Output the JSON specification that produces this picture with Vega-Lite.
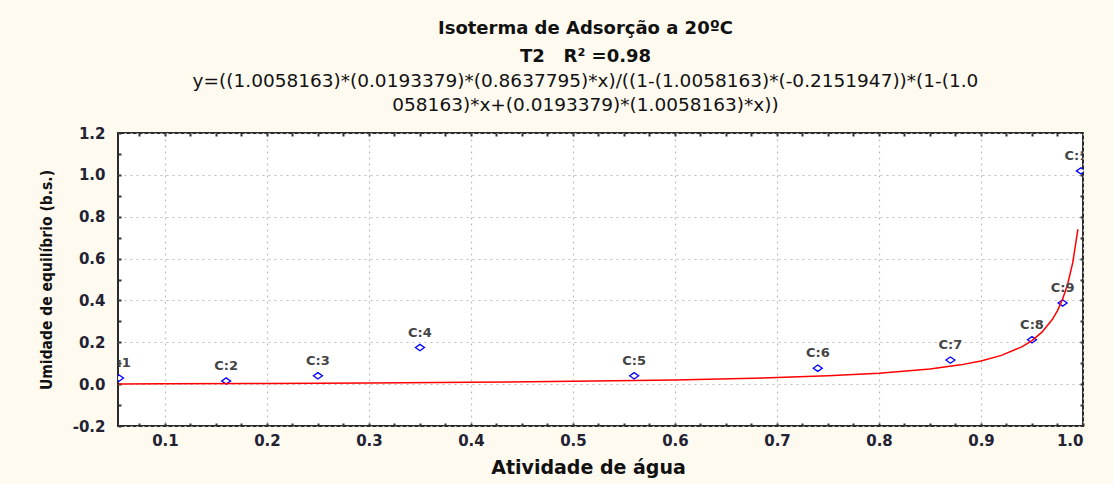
{
  "$schema": "https://vega.github.io/schema/vega-lite/v6.json",
  "width": 965,
  "height": 293,
  "autosize": {"type": "none"},
  "padding": {"left": 118, "top": 133, "right": 30, "bottom": 58},
  "background": "#fffaf0",
  "config": {
    "view": {"stroke": "#2a2a2a", "strokeWidth": 2, "fill": "white"},
    "axis": {"grid": false, "domain": false}
  },
  "title": {
    "text": ["Isoterma de Adsorção a 20ºC", "T2\u00a0\u00a0\u00a0R² =0.98"],
    "subtitle": ["y=((1.0058163)*(0.0193379)*(0.8637795)*x)/((1-(1.0058163)*(-0.2151947))*(1-(1.0", "058163)*x+(0.0193379)*(1.0058163)*x))"],
    "font": "DejaVu Sans",
    "fontSize": 18,
    "fontWeight": "bold",
    "lineHeight": 28,
    "color": "#111111",
    "subtitleFont": "DejaVu Sans",
    "subtitleFontSize": 18.5,
    "subtitleLineHeight": 24,
    "subtitleColor": "#111111",
    "subtitlePadding": 6,
    "anchor": "middle",
    "dx": -15,
    "offset": 12
  },
  "datasets": {
    "points": [
      {"x": 0.055, "y": 0.029, "label": "C:1"},
      {"x": 0.16, "y": 0.015, "label": "C:2"},
      {"x": 0.25, "y": 0.040, "label": "C:3"},
      {"x": 0.35, "y": 0.175, "label": "C:4"},
      {"x": 0.56, "y": 0.040, "label": "C:5"},
      {"x": 0.74, "y": 0.076, "label": "C:6"},
      {"x": 0.87, "y": 0.115, "label": "C:7"},
      {"x": 0.95, "y": 0.212, "label": "C:8"},
      {"x": 0.98, "y": 0.388, "label": "C:9"},
      {"x": 0.998, "y": 1.019, "label": "C:10"}
    ],
    "curve": [
      {"x": 0.055, "y": 0.0008},
      {"x": 0.1, "y": 0.0015},
      {"x": 0.2, "y": 0.0034},
      {"x": 0.3, "y": 0.0059},
      {"x": 0.4, "y": 0.0091},
      {"x": 0.5, "y": 0.0136},
      {"x": 0.6, "y": 0.0203},
      {"x": 0.7, "y": 0.0312},
      {"x": 0.75, "y": 0.0398},
      {"x": 0.8, "y": 0.0524},
      {"x": 0.85, "y": 0.0727},
      {"x": 0.88, "y": 0.0921},
      {"x": 0.9, "y": 0.1107},
      {"x": 0.92, "y": 0.1373},
      {"x": 0.94, "y": 0.1783},
      {"x": 0.95, "y": 0.2084},
      {"x": 0.96, "y": 0.2498},
      {"x": 0.97, "y": 0.3099},
      {"x": 0.975, "y": 0.3517},
      {"x": 0.98, "y": 0.4058},
      {"x": 0.985, "y": 0.4785},
      {"x": 0.99, "y": 0.5819},
      {"x": 0.995, "y": 0.7401}
    ]
  },
  "resolve": {"axis": {"x": "independent", "y": "independent"}},
  "layer": [
    {
      "data": {"name": "points"},
      "mark": {"type": "point", "shape": "M-1,0L0,-0.7L1,0L0,0.7Z", "size": 81, "filled": false, "fill": "white", "fillOpacity": 1, "stroke": "#0000ff", "strokeWidth": 1.3, "opacity": 1, "clip": true},
      "encoding": {
        "x": {
          "field": "x", "type": "quantitative",
          "scale": {"domain": [0.054, 1.0], "nice": false, "zero": false},
          "axis": {
            "orient": "bottom",
            "title": "Atividade de água",
            "titleX": 470,
            "values": [0.075,0.1,0.125,0.15,0.175,0.2,0.225,0.25,0.275,0.3,0.325,0.35,0.375,0.4,0.425,0.45,0.475,0.5,0.525,0.55,0.575,0.6,0.625,0.65,0.675,0.7,0.725,0.75,0.775,0.8,0.825,0.85,0.875,0.9,0.925,0.95,0.975,1.0],
            "labelExpr": "abs(datum.value*10 - round(datum.value*10)) < 0.001 ? format(datum.value, '.1f') : ''",
            "labelOverlap": false,
            "labelFont": "DejaVu Sans", "labelFontSize": 15, "labelFontWeight": "bold", "labelColor": "#222233",
            "labelPadding": 10,
            "tickSize": -3, "tickColor": "#333333", "tickWidth": 2,
            "grid": true,
            "gridColor": "#bdbdbd", "gridDash": [2, 4], "gridWidth": 1.2,
            "gridOpacity": {"condition": {"test": "abs(datum.value*10 - round(datum.value*10)) < 0.001", "value": 1}, "value": 0},
            "titleFont": "DejaVu Sans", "titleFontSize": 19, "titleFontWeight": "bold", "titleColor": "#111111",
            "titlePadding": 10
          }
        },
        "y": {
          "field": "y", "type": "quantitative",
          "scale": {"domain": [-0.2, 1.2], "nice": false, "zero": false},
          "axis": {
            "orient": "left",
            "title": "Umidade de equilíbrio (b.s.)",
            "values": [-0.2,-0.1,0,0.1,0.2,0.3,0.4,0.5,0.6,0.7,0.8,0.9,1.0,1.1,1.2],
            "labelExpr": "abs(datum.value*5 - round(datum.value*5)) < 0.001 ? (datum.value < 0 ? '-' + format(-datum.value, '.1f') : format(datum.value, '.1f')) : ''",
            "labelOverlap": false,
            "labelFont": "DejaVu Sans", "labelFontSize": 15, "labelFontWeight": "bold", "labelColor": "#222233",
            "labelPadding": 16,
            "tickSize": -3, "tickColor": "#333333", "tickWidth": 2,
            "grid": true,
            "gridColor": "#bdbdbd", "gridDash": [2, 4], "gridWidth": 1.2,
            "gridOpacity": {"condition": {"test": "abs(datum.value*5 - round(datum.value*5)) < 0.001", "value": 1}, "value": 0},
            "titleFont": "DejaVu Sans Condensed", "titleFontSize": 15.5, "titleFontWeight": "bold", "titleColor": "#111111",
            "titlePadding": 18
          }
        }
      }
    },
    {
      "data": {"name": "curve"},
      "mark": {"type": "line", "color": "#ff0000", "strokeWidth": 1.5, "clip": true},
      "encoding": {
        "x": {
          "field": "x", "type": "quantitative",
          "scale": {"domain": [0.054, 1.0], "nice": false, "zero": false},
          "axis": {
            "orient": "top", "title": null, "labels": false, "grid": false,
            "values": [0.075,0.1,0.125,0.15,0.175,0.2,0.225,0.25,0.275,0.3,0.325,0.35,0.375,0.4,0.425,0.45,0.475,0.5,0.525,0.55,0.575,0.6,0.625,0.65,0.675,0.7,0.725,0.75,0.775,0.8,0.825,0.85,0.875,0.9,0.925,0.95,0.975],
            "tickSize": -3, "tickColor": "#333333", "tickWidth": 2
          }
        },
        "y": {
          "field": "y", "type": "quantitative",
          "scale": {"domain": [-0.2, 1.2], "nice": false, "zero": false},
          "axis": {
            "orient": "right", "title": null, "labels": false, "grid": false,
            "values": [-0.1,0,0.1,0.2,0.3,0.4,0.5,0.6,0.7,0.8,0.9,1.0,1.1],
            "tickSize": -3, "tickColor": "#333333", "tickWidth": 2
          }
        }
      }
    },
    {
      "data": {"name": "points"},
      "mark": {"type": "text", "font": "DejaVu Sans", "fontSize": 13, "fontWeight": "bold", "color": "#444444", "dy": -15, "clip": true, "align": "center", "baseline": "middle"},
      "encoding": {
        "x": {"field": "x", "type": "quantitative", "scale": {"domain": [0.054, 1.0], "nice": false, "zero": false}, "axis": null},
        "y": {"field": "y", "type": "quantitative", "scale": {"domain": [-0.2, 1.2], "nice": false, "zero": false}, "axis": null},
        "text": {"field": "label"}
      }
    }
  ]
}
